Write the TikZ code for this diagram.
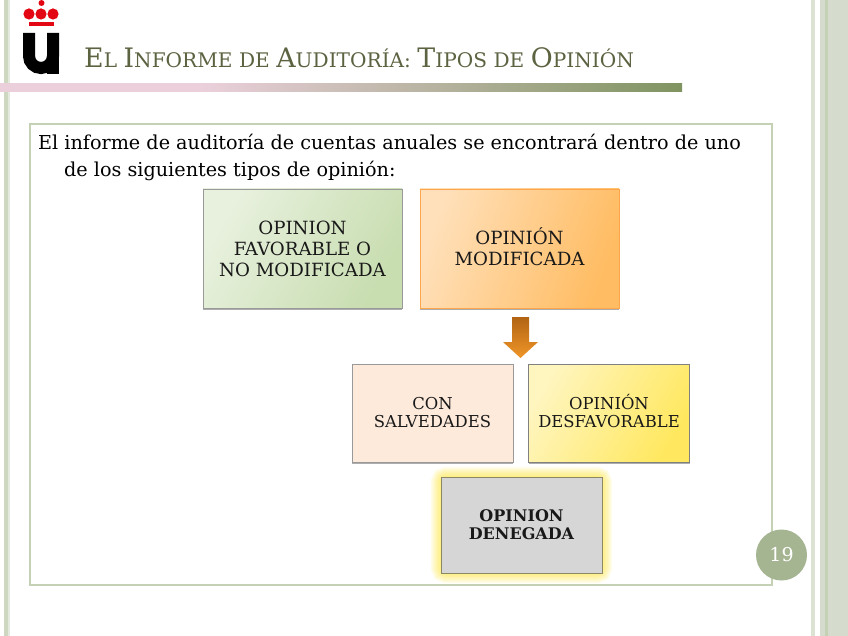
\documentclass[tikz,border=0pt]{standalone}
\usepackage{fontspec}
\setmainfont{DejaVu Serif}
\usepackage{xcolor}
\usetikzlibrary{shadows}
\definecolor{sage}{RGB}{197,209,181}
\definecolor{sidebar}{RGB}{213,220,205}
\definecolor{badge}{RGB}{165,181,146}
\definecolor{titlecol}{RGB}{91,99,65}
\definecolor{bandpink}{RGB}{235,208,220}
\definecolor{bandgreen}{RGB}{127,148,96}
\definecolor{crest}{RGB}{227,6,19}
\newcommand{\titlefont}[1]{{\fontsize{26.8}{30}\selectfont #1}}
\newcommand{\titlesmall}[1]{{\fontsize{20.1}{30}\selectfont #1}}
\newcommand{\titlegap}{\hspace{6.5pt}}
\newcommand{\capline}[1]{\raisebox{0pt}[0.73em]{#1}}
\tikzset{
	box/.style={draw,line width=0.8pt,outer sep=0pt,align=center,text=black!90},
	softshadow/.style={drop shadow={shadow xshift=0pt,shadow yshift=-2pt,opacity=0.32,fill=black}},
	bigbox/.style={box,softshadow,minimum width=199pt,minimum height=119pt,font=\fontsize{18.2}{21}\selectfont},
	smallbox/.style={box,minimum width=161pt,minimum height=98pt,font=\fontsize{16.4}{18}\selectfont}
}

\begin{document}
\begin{tikzpicture}[x=1pt,y=-1pt]
	\useasboundingbox (0,0) rectangle (848,636);

	\fill[sage!85] (4,0) rectangle (8,636);
	\fill[sage!45] (8,0) rectangle (10,636);
	\fill[sage!60] (811,0) rectangle (815,636);
	\fill[sidebar] (820,0) rectangle (848,636);
	\fill[sage] (825,0) rectangle (828,636);

	\fill[bandpink] (0,83.5) rectangle (200,92);
	\shade[left color=bandpink,right color=bandgreen] (200,83.5) rectangle (682,92);

	\fill[crest] (29,14) circle (5.6);
	\fill[crest] (41,14) circle (5.6);
	\fill[crest] (53,14) circle (5.6);
	\fill[crest] (41.5,3) circle (3);
	\fill[crest] (29,22.3) rectangle (54,26.3);
	\draw[line width=12pt,black] (29,33) -- (29,56) arc (180:0:12) -- (53,33);
	\fill[black] (47,56) rectangle (59,74);

	\node[anchor=base west,inner sep=0pt,text=titlecol] (titletext) at (84,68) {\titlefont{E}\titlesmall{L}\titlegap\titlefont{I}\titlesmall{NFORME}\titlegap\titlesmall{DE}\titlegap\titlefont{A}\titlesmall{UDITORÍA:}\titlegap\titlefont{T}\titlesmall{IPOS}\titlegap\titlesmall{DE}\titlegap\titlefont{O}\titlesmall{PINIÓN}};

	\draw[sage,line width=1.3pt] (30,124) rectangle (772,585);

	\node[anchor=base west,inner sep=0pt,font=\fontsize{19.2}{22}\selectfont] (introa) at (38,150) {El informe de auditoría de cuentas anuales se encontrará dentro de uno};
	\node[anchor=base west,inner sep=0pt,font=\fontsize{19.2}{22}\selectfont] (introb) at (64,177) {de los siguientes tipos de opinión:};

	\node[bigbox,draw=black!40,left color={rgb,255:red,232;green,241;blue,222},right color={rgb,255:red,200;green,221;blue,176},shading angle=60] (favorable) at (302.5,248.5) {OPINION\\FAVORABLE O\\NO MODIFICADA};
	\node[bigbox,draw=orange!70,left color={rgb,255:red,255;green,224;blue,186},right color={rgb,255:red,255;green,188;blue,98},shading angle=70] (modificada) at (519.5,248.5) {\capline{OPINIÓN}\\MODIFICADA};

	\shade[top color={rgb,255:red,178;green,100;blue,20},bottom color={rgb,255:red,240;green,150;blue,40}] (512,317) -- (529,317) -- (529,342) -- (538,342) -- (520.5,358) -- (503,342) -- (512,342) -- cycle;

	\node[smallbox,softshadow,draw=black!40,fill={rgb,255:red,253;green,234;blue,219}] (salvedades) at (432.5,413) {CON\\SALVEDADES};
	\node[smallbox,softshadow,draw=black!50,left color={rgb,255:red,255;green,245;blue,190},right color={rgb,255:red,255;green,232;blue,95},shading angle=60] (desfavorable) at (609,413) {\capline{OPINIÓN}\\DESFAVORABLE};

	\foreach \g in {20,17,14,11,8,5,2}
		\draw[yellow!80!orange,line width=\g pt,opacity=0.09,rounded corners=5pt] (441,477) rectangle (602,573);
	\node[smallbox,draw={rgb,255:red,140;green,135;blue,100},fill=black!16,minimum height=96pt,font=\fontsize{16}{18}\selectfont\bfseries] (denegada) at (521.5,525) {OPINION\\DENEGADA};

	\node[circle,fill=badge,minimum size=51pt,inner sep=0pt,text=white,font=\fontsize{19}{20}\selectfont] (pagenum) at (781.5,555) {19};
\end{tikzpicture}
\end{document}
